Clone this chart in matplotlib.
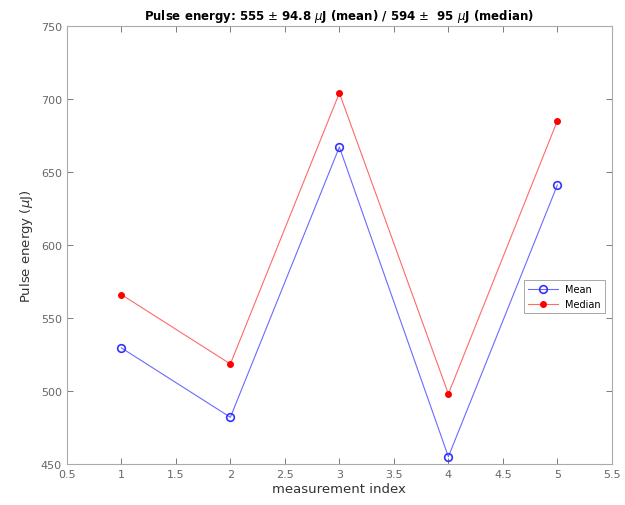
import numpy as np
import matplotlib.pyplot as plt

idx = [1, 2, 3, 4, 5]
mean_vals = [529.5, 482, 667, 455, 641]
median_vals = [566, 518.5, 704, 498, 685]

xticks = [0.5, 1, 1.5, 2, 2.5, 3, 3.5, 4, 4.5, 5, 5.5]
yticks = [450, 500, 550, 600, 650, 700, 750]

def main():
    fig = plt.figure(figsize=(6.25, 5.06), dpi=100)
    ax = fig.add_axes([0.107, 0.081, 0.872, 0.866])

    ax.plot(idx, mean_vals, color='#6a6aff', lw=0.8, marker='o', ms=5.5,
            mfc='none', mec='#3333ff', mew=1.2, label='Mean')
    ax.plot(idx, median_vals, color='#ff6a6a', lw=0.8, marker='.', ms=8,
            mfc='red', mec='red', label='Median')

    ax.set_xlim(0.5, 5.5)
    ax.set_ylim(450, 750)
    ax.set_xticks(xticks)
    ax.set_xticklabels([f'{t:g}' for t in xticks])
    ax.set_yticks(yticks)
    ax.tick_params(direction='in', length=4, labelsize=8, colors='#666666',
                   top=True, right=True, width=0.6)
    for s in ax.spines.values():
        s.set_color('#aaaaaa')
        s.set_linewidth(0.8)

    ax.set_xlabel('measurement index', fontsize=9.5, color='#333333', labelpad=2)
    ax.set_ylabel(r'Pulse energy ($\mu$J)', fontsize=9.5, color='#333333', labelpad=4)
    ax.set_title(r'Pulse energy: 555 $\pm$ 94.8 $\mu$J (mean) / 594 $\pm$  95 $\mu$J (median)',
                 fontsize=8.5, fontweight='bold', pad=5)

    leg = ax.legend(loc='upper right', bbox_to_anchor=(0.996, 0.43), fontsize=7,
                    fancybox=False, framealpha=1, borderpad=0.4, handlelength=3)
    leg.get_frame().set_edgecolor('#999999')
    leg.get_frame().set_linewidth(0.6)

    fig.savefig('out.png', dpi=100)

if __name__ == '__main__':
    main()
